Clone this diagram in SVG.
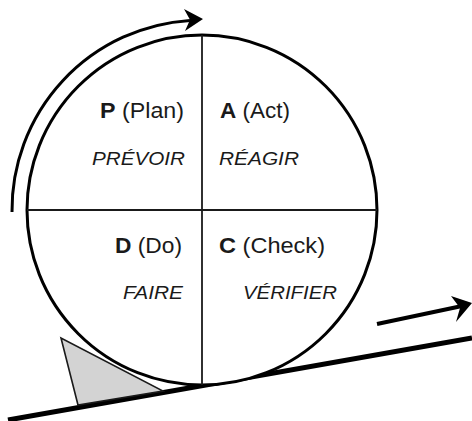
<svg xmlns="http://www.w3.org/2000/svg" width="472" height="421" viewBox="0 0 472 421">
  <style>
    .rim { fill: #ffffff; stroke: #000000; stroke-width: 3; }
    .divider { stroke: #1a1a1a; stroke-width: 1.8; fill: none; }
    .flow { fill: none; stroke: #000000; stroke-width: 3; }
    .head { fill: #000000; stroke: none; }
    .ground { stroke: #000000; stroke-width: 5; fill: none; stroke-linecap: butt; }
    .wedge { fill: #d3d3d3; stroke: #1a1a1a; stroke-width: 1.6; stroke-linejoin: miter; }
    .title { font-family: "Liberation Sans", Arial, sans-serif; font-size: 22px; fill: #1a1a1a; }
    .title .key { font-weight: bold; }
    .verb { font-family: "Liberation Sans", Arial, sans-serif; font-size: 19px; font-style: italic; fill: #1a1a1a; }
  </style>

  <!-- slope the wheel rolls up -->
  <g id="ground">
    <line class="ground" x1="8" y1="420" x2="472" y2="338"/>
  </g>

  <!-- wheel -->
  <g id="wheel">
    <circle class="rim" cx="202" cy="210" r="175"/>
    <line class="divider" x1="202" y1="35" x2="202" y2="385"/>
    <line class="divider" x1="27" y1="210" x2="377" y2="210"/>
  </g>

  <!-- wedge blocking the wheel -->
  <g id="wedge">
    <polygon class="wedge" points="61,338 78,405 163,391"/>
  </g>

  <!-- quadrant labels -->
  <g id="plan">
    <text class="title" x="100" y="118" textLength="84" lengthAdjust="spacingAndGlyphs"><tspan class="key">P</tspan> (Plan)</text>
    <text class="verb" x="92" y="165" textLength="93" lengthAdjust="spacingAndGlyphs">PRÉVOIR</text>
  </g>
  <g id="act">
    <text class="title" x="220" y="118" textLength="70" lengthAdjust="spacingAndGlyphs"><tspan class="key">A</tspan> (Act)</text>
    <text class="verb" x="219" y="165" textLength="80" lengthAdjust="spacingAndGlyphs">RÉAGIR</text>
  </g>
  <g id="do">
    <text class="title" x="115" y="253" textLength="67" lengthAdjust="spacingAndGlyphs"><tspan class="key">D</tspan> (Do)</text>
    <text class="verb" x="123" y="299" textLength="60" lengthAdjust="spacingAndGlyphs">FAIRE</text>
  </g>
  <g id="check">
    <text class="title" x="219" y="253" textLength="106" lengthAdjust="spacingAndGlyphs"><tspan class="key">C</tspan> (Check)</text>
    <text class="verb" x="243" y="299" textLength="94" lengthAdjust="spacingAndGlyphs">VÉRIFIER</text>
  </g>

  <!-- arrows -->
  <g id="connectors">
    <!-- rotation of the wheel -->
    <path class="flow" d="M 12 212 A 190 190 0 0 1 190 20.4"/>
    <path class="head" d="M 203 19 L 184 9 L 190 19.8 L 185 31 Z"/>
    <!-- direction of progress -->
    <line class="flow" x1="377" y1="324" x2="462" y2="306" style="stroke-width:4"/>
    <path class="head" d="M 472 303 L 451 296 L 460 308 L 456 322 Z"/>
  </g>
</svg>
